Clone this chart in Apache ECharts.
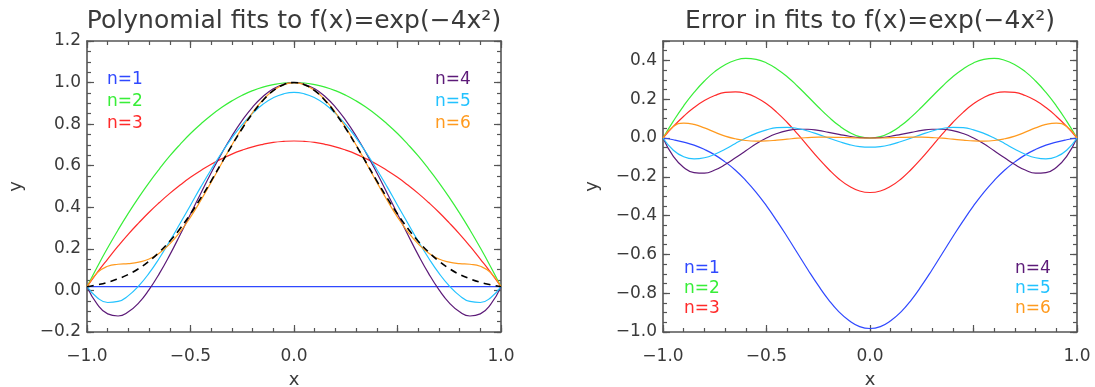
<!DOCTYPE html>
<html>
<head>
<meta charset="utf-8">
<script src="https://cdn.jsdelivr.net/npm/echarts@6/dist/echarts.min.js"></script>
<style>
  html, body { margin: 0; padding: 0; background: #ffffff; }
  #chart { width: 1095px; height: 387px; }
</style>
</head>
<body>
<div id="chart"></div>
<script>
// Sample positions on [-1, 1]
const xs = [-1.00, -0.95, -0.90, -0.85, -0.80, -0.75, -0.70, -0.65, -0.60, -0.55, -0.50,
            -0.45, -0.40, -0.35, -0.30, -0.25, -0.20, -0.15, -0.10, -0.05, 0.00,
             0.05,  0.10,  0.15,  0.20,  0.25,  0.30,  0.35,  0.40,  0.45,  0.50,
             0.55,  0.60,  0.65,  0.70,  0.75,  0.80,  0.85,  0.90,  0.95,  1.00];

// f(x) = exp(-4x^2)
const fTrue = [0.018, 0.027, 0.039, 0.056, 0.077, 0.105, 0.141, 0.185, 0.237, 0.298, 0.368,
               0.445, 0.527, 0.613, 0.698, 0.779, 0.852, 0.914, 0.961, 0.990, 1.000,
               0.990, 0.961, 0.914, 0.852, 0.779, 0.698, 0.613, 0.527, 0.445, 0.368,
               0.298, 0.237, 0.185, 0.141, 0.105, 0.077, 0.056, 0.039, 0.027, 0.018];

// Polynomial fits, n = 1 .. 6
const fit1 = [0.018, 0.018, 0.018, 0.018, 0.018, 0.018, 0.018, 0.018, 0.018, 0.018, 0.018,
              0.018, 0.018, 0.018, 0.018, 0.018, 0.018, 0.018, 0.018, 0.018, 0.018,
              0.018, 0.018, 0.018, 0.018, 0.018, 0.018, 0.018, 0.018, 0.018, 0.018,
              0.018, 0.018, 0.018, 0.018, 0.018, 0.018, 0.018, 0.018, 0.018, 0.018];
const fit2 = [0.018, 0.114, 0.205, 0.291, 0.372, 0.448, 0.519, 0.585, 0.647, 0.703, 0.755,
              0.801, 0.843, 0.880, 0.912, 0.939, 0.961, 0.978, 0.990, 0.998, 1.000,
              0.998, 0.990, 0.978, 0.961, 0.939, 0.912, 0.880, 0.843, 0.801, 0.755,
              0.703, 0.647, 0.585, 0.519, 0.448, 0.372, 0.291, 0.205, 0.114, 0.018];
const fit3 = [0.018, 0.087, 0.151, 0.213, 0.271, 0.325, 0.376, 0.423, 0.467, 0.507, 0.544,
              0.577, 0.607, 0.633, 0.656, 0.675, 0.691, 0.703, 0.712, 0.717, 0.719,
              0.717, 0.712, 0.703, 0.691, 0.675, 0.656, 0.633, 0.607, 0.577, 0.544,
              0.507, 0.467, 0.423, 0.376, 0.325, 0.271, 0.213, 0.151, 0.087, 0.018];
const fit4 = [0.018, -0.067, -0.113, -0.123, -0.103, -0.060, 0.004, 0.082, 0.171, 0.268, 0.368,
              0.468, 0.566, 0.658, 0.743, 0.818, 0.882, 0.933, 0.970, 0.992, 1.000,
              0.992, 0.970, 0.933, 0.882, 0.818, 0.743, 0.658, 0.566, 0.468, 0.368,
              0.268, 0.171, 0.082, 0.004, -0.060, -0.103, -0.123, -0.113, -0.067, 0.018];
const fit5 = [0.018, -0.035, -0.058, -0.053, -0.025, 0.022, 0.083, 0.156, 0.237, 0.323, 0.410,
              0.498, 0.582, 0.661, 0.734, 0.798, 0.852, 0.896, 0.927, 0.946, 0.953,
              0.946, 0.927, 0.896, 0.852, 0.798, 0.734, 0.661, 0.582, 0.498, 0.410,
              0.323, 0.237, 0.156, 0.083, 0.022, -0.025, -0.053, -0.058, -0.035, 0.018];
const fit6 = [0.018, 0.086, 0.116, 0.126, 0.129, 0.136, 0.151, 0.180, 0.224, 0.282, 0.353,
              0.434, 0.521, 0.611, 0.700, 0.783, 0.856, 0.917, 0.962, 0.990, 1.000,
              0.990, 0.962, 0.917, 0.856, 0.783, 0.700, 0.611, 0.521, 0.434, 0.353,
              0.282, 0.224, 0.180, 0.151, 0.136, 0.129, 0.126, 0.116, 0.086, 0.018];

// Errors (fit - f), n = 1 .. 6
const err1 = [0.000, -0.009, -0.021, -0.037, -0.059, -0.087, -0.123, -0.166, -0.219, -0.280, -0.350,
              -0.427, -0.509, -0.594, -0.679, -0.760, -0.834, -0.896, -0.942, -0.972, -0.982,
              -0.972, -0.942, -0.896, -0.834, -0.760, -0.679, -0.594, -0.509, -0.427, -0.350,
              -0.280, -0.219, -0.166, -0.123, -0.087, -0.059, -0.037, -0.021, -0.009, 0.000];
const err2 = [0.000, 0.087, 0.166, 0.235, 0.294, 0.342, 0.378, 0.401, 0.410, 0.405, 0.387,
              0.356, 0.316, 0.267, 0.214, 0.160, 0.109, 0.064, 0.029, 0.007, 0.000,
              0.007, 0.029, 0.064, 0.109, 0.160, 0.214, 0.267, 0.316, 0.356, 0.387,
              0.405, 0.410, 0.401, 0.378, 0.342, 0.294, 0.235, 0.166, 0.087, 0.000];
const err3 = [0.000, 0.060, 0.112, 0.157, 0.193, 0.219, 0.235, 0.238, 0.230, 0.209, 0.176,
              0.132, 0.080, 0.021, -0.042, -0.104, -0.161, -0.211, -0.249, -0.273, -0.281,
              -0.273, -0.249, -0.211, -0.161, -0.104, -0.042, 0.021, 0.080, 0.132, 0.176,
              0.209, 0.230, 0.238, 0.235, 0.219, 0.193, 0.157, 0.112, 0.060, 0.000];
const err4 = [0.000, -0.095, -0.152, -0.178, -0.181, -0.165, -0.137, -0.102, -0.066, -0.030, 0.000,
              0.023, 0.038, 0.045, 0.045, 0.039, 0.029, 0.019, 0.009, 0.002, 0.000,
              0.002, 0.009, 0.019, 0.029, 0.039, 0.045, 0.045, 0.038, 0.023, 0.000,
              -0.030, -0.066, -0.102, -0.137, -0.165, -0.181, -0.178, -0.152, -0.095, 0.000];
const err5 = [0.000, -0.063, -0.097, -0.108, -0.102, -0.084, -0.058, -0.028, 0.000, 0.024, 0.042,
              0.053, 0.055, 0.049, 0.036, 0.019, 0.000, -0.018, -0.034, -0.044, -0.047,
              -0.044, -0.034, -0.018, 0.000, 0.019, 0.036, 0.049, 0.055, 0.053, 0.042,
              0.024, 0.000, -0.028, -0.058, -0.084, -0.102, -0.108, -0.097, -0.063, 0.000];
const err6 = [0.000, 0.059, 0.077, 0.070, 0.052, 0.030, 0.010, -0.004, -0.013, -0.016, -0.015,
              -0.011, -0.006, -0.001, 0.002, 0.004, 0.004, 0.003, 0.002, 0.000, 0.000,
              0.000, 0.002, 0.003, 0.004, 0.004, 0.002, -0.001, -0.006, -0.011, -0.015,
              -0.016, -0.013, -0.004, 0.010, 0.030, 0.052, 0.070, 0.077, 0.059, 0.000];

const fitNames = ['n=1', 'n=2', 'n=3', 'n=4', 'n=5', 'n=6'];
const fitColors = ['#2f48ff', '#38ee38', '#ff2a2a', '#5c1a78', '#22c2ff', '#ff9a1e'];
const panelTitles = ['Polynomial fits to f(x)=exp(\u22124x\u00b2)', 'Error in fits to f(x)=exp(\u22124x\u00b2)'];

const FONT = '"DejaVu Sans", sans-serif';
const AXIS_COLOR = '#555555';
const TEXT_COLOR = '#3a3a3a';

// Panel boxes (pixels)
const panels = [
  { left: 87, top: 41, width: 414, height: 291, yMin: -0.2, yMax: 1.2 },
  { left: 663, top: 41, width: 414, height: 291, yMin: -1.0, yMax: 0.5 }
];

function fmt(v) {
  if (Math.abs(v - 0.5) < 1e-9) return '';
  const s = Math.abs(v).toFixed(1);
  return (v < -1e-9 ? '\u2212' : '') + s;
}

const tickLine = { color: AXIS_COLOR, width: 1.2 };

function makeXAxes(g) {
  const base = { type: 'value', gridIndex: g, min: -1, max: 1, splitLine: { show: false } };
  const line = { show: true, onZero: false, lineStyle: { color: AXIS_COLOR, width: 1.6 } };
  const noLine = { show: false, onZero: false };
  return [
    Object.assign({}, base, {
      position: 'bottom', interval: 0.5, axisLine: line,
      axisTick: { inside: true, length: 7, lineStyle: tickLine },
      axisLabel: { formatter: v => (Math.abs(v) < 1e-9 ? '0.0' : fmt(v)), margin: 16, fontSize: 17,
                   color: TEXT_COLOR, fontFamily: FONT },
      name: 'x', nameLocation: 'middle', nameGap: 39,
      nameTextStyle: { fontSize: 18, color: TEXT_COLOR, fontFamily: FONT }
    }),
    Object.assign({}, base, {
      position: 'top', interval: 0.5, axisLine: line,
      axisTick: { inside: true, length: 7, lineStyle: tickLine }, axisLabel: { show: false }
    }),
    Object.assign({}, base, {
      position: 'bottom', interval: 0.1, axisLine: noLine,
      axisTick: { inside: true, length: 4, lineStyle: tickLine }, axisLabel: { show: false }
    }),
    Object.assign({}, base, {
      position: 'top', interval: 0.1, axisLine: noLine,
      axisTick: { inside: true, length: 4, lineStyle: tickLine }, axisLabel: { show: false }
    })
  ];
}

function makeYAxes(g) {
  const p = panels[g];
  const base = { type: 'value', gridIndex: g, min: p.yMin, max: p.yMax, splitLine: { show: false } };
  const line = { show: true, onZero: false, lineStyle: { color: AXIS_COLOR, width: 1.6 } };
  const noLine = { show: false, onZero: false };
  return [
    Object.assign({}, base, {
      position: 'left', interval: 0.2, axisLine: line,
      axisTick: { inside: true, length: 7, lineStyle: tickLine },
      axisLabel: { formatter: fmt, margin: 6, fontSize: 17, color: TEXT_COLOR, fontFamily: FONT },
      name: 'y', nameLocation: 'middle', nameGap: 62,
      nameTextStyle: { fontSize: 18, color: TEXT_COLOR, fontFamily: FONT }
    }),
    Object.assign({}, base, {
      position: 'right', interval: 0.2, axisLine: line,
      axisTick: { inside: true, length: 7, lineStyle: tickLine }, axisLabel: { show: false }
    }),
    Object.assign({}, base, {
      position: 'left', interval: 0.05, axisLine: noLine,
      axisTick: { inside: true, length: 4, lineStyle: tickLine }, axisLabel: { show: false }
    }),
    Object.assign({}, base, {
      position: 'right', interval: 0.05, axisLine: noLine,
      axisTick: { inside: true, length: 4, lineStyle: tickLine }, axisLabel: { show: false }
    })
  ];
}

function pairs(ys) {
  return xs.map((x, i) => [x, ys[i]]);
}

function curve(name, ys, g, color, dashed) {
  return {
    type: 'line', name: name, xAxisIndex: g * 4, yAxisIndex: g * 4,
    data: pairs(ys), showSymbol: false, symbol: 'none', smooth: true,
    lineStyle: dashed ? { color: color, width: 1.6, type: [7, 5] } : { color: color, width: 1.2 },
    z: dashed ? 5 : 3, silent: true
  };
}

const fits = [fit1, fit2, fit3, fit4, fit5, fit6];
const errs = [err1, err2, err3, err4, err5, err6];

const series = [];
fits.forEach((ys, i) => series.push(curve(fitNames[i], ys, 0, fitColors[i], false)));
series.push(curve('f(x)', fTrue, 0, '#000000', true));
errs.forEach((ys, i) => series.push(curve(fitNames[i], ys, 1, fitColors[i], false)));

// Titles and in-plot key labels
const graphics = [];
panels.forEach((p, g) => {
  graphics.push({
    type: 'text', x: p.left + p.width / 2, y: 21,
    style: { text: panelTitles[g], fontSize: 25, fontFamily: FONT, fill: TEXT_COLOR,
             align: 'center', verticalAlign: 'middle' }
  });
});
const keyPos = [
  { x1: 107, x2: 435, ys: [80, 102, 124] },
  { x1: 684, x2: 1015, ys: [269, 289, 309] }
];
keyPos.forEach(k => {
  fitNames.forEach((nm, i) => {
    graphics.push({
      type: 'text', x: i < 3 ? k.x1 : k.x2, y: k.ys[i % 3],
      style: { text: nm, fontSize: 17, fontFamily: FONT, fill: fitColors[i],
               align: 'left', verticalAlign: 'middle' }
    });
  });
});

const chart = echarts.init(document.getElementById('chart'), null, { renderer: 'canvas' });
chart.setOption({
  animation: false,
  backgroundColor: '#ffffff',
  grid: panels.map(p => ({ left: p.left, top: p.top, width: p.width, height: p.height,
                          containLabel: false, outerBoundsMode: 'none' })),
  xAxis: makeXAxes(0).concat(makeXAxes(1)),
  yAxis: makeYAxes(0).concat(makeYAxes(1)),
  series: series,
  graphic: graphics
});
</script>
</body>
</html>
